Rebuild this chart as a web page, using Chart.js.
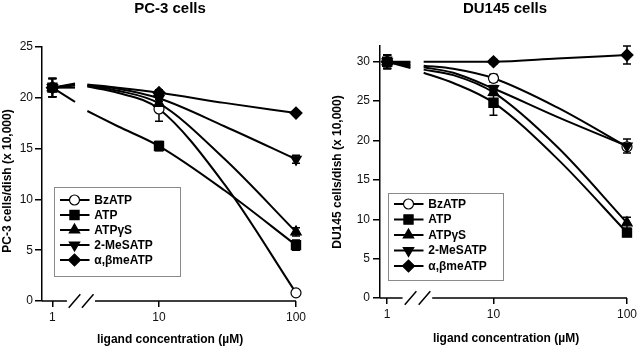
<!DOCTYPE html>
<html>
<head>
<meta charset="utf-8">
<title>Nucleotide effects on PC-3 and DU145 cell number</title>
<script src="https://cdn.jsdelivr.net/npm/chart.js@4.4.1/dist/chart.umd.min.js"></script>
<style>
  html, body { margin: 0; padding: 0; background: #fff; }
  .charts { display: flex; width: 640px; height: 347px; }
  .panel { position: relative; width: 320px; height: 347px; }
</style>
</head>
<body>
<div class="charts">
  <div class="panel"><canvas id="pc3Chart"></canvas></div>
  <div class="panel"><canvas id="du145Chart"></canvas></div>
</div>
<script>
// ============================================================================
// DATA (cells/dish x 10,000)
// ============================================================================
const seriesNames = ['BzATP', 'ATP', 'ATPγS', '2-MeSATP', 'α,βmeATP'];
const markerConc = [1, 10, 100];        // µM (1 = control, left of the axis break)
const fitConc = [3, 5, 10, 30, 100];
const xTickLabels = ['1', '10', '100'];
const pc3YTicks = [0, 5, 10, 15, 20, 25];
const du145YTicks = [0, 5, 10, 15, 20, 25, 30];

// PC-3: measured means at 1, 10, 100 µM
const pc3BzATP = [21.0, 18.9, 0.8];
const pc3ATP = [21.0, 15.25, 5.5];
const pc3ATPgS = [21.0, 19.45, 6.8];
const pc3MeSATP = [21.0, 19.95, 13.95];
const pc3AbmeATP = [21.0, 20.5, 18.5];
// PC-3: error bars (±)
const pc3BzATPErr = [0.9, 1.2, 0.2];
const pc3ATPErr = [0.9, 0.45, 0.5];
const pc3ATPgSErr = [0.9, 0.4, 0.4];
const pc3MeSATPErr = [0.9, 0.3, 0.4];
const pc3AbmeATPErr = [0.9, 0.3, 0.2];
// PC-3: fitted curves at fitConc
const pc3BzATPFit = [21.1, 20.5, 18.9, 11.5, 0.8];
const pc3ATPFit = [18.7, 17.2, 15.25, 10.9, 5.5];
const pc3ATPgSFit = [21.2, 20.7, 19.45, 14.0, 6.8];
const pc3MeSATPFit = [21.2, 20.9, 19.95, 17.2, 13.95];
const pc3AbmeATPFit = [21.3, 21.0, 20.5, 19.5, 18.5];
// PC-3: where each line from the control meets the axis break
const pc3Stub = [21.0, 19.6, 21.2, 21.3, 21.4];

// DU145: measured means at 1, 10, 100 µM
const du145BzATP = [30.0, 27.9, 19.2];
const du145ATP = [30.0, 24.8, 8.3];
const du145ATPgS = [30.0, 26.1, 9.55];
const du145MeSATP = [30.0, 26.6, 19.3];
const du145AbmeATP = [30.0, 30.0, 30.85];
// DU145: error bars (±)
const du145BzATPErr = [0.85, 0.5, 0.4];
const du145ATPErr = [0.85, 1.6, 0.4];
const du145ATPgSErr = [0.85, 0.4, 0.7];
const du145MeSATPErr = [0.85, 0.4, 0.9];
const du145AbmeATPErr = [0.85, 0.3, 1.15];
// DU145: fitted curves at fitConc
const du145BzATPFit = [29.5, 29.1, 27.9, 24.2, 19.2];
const du145ATPFit = [28.6, 27.3, 24.8, 17.7, 8.3];
const du145ATPgSFit = [29.0, 28.3, 26.1, 19.2, 9.55];
const du145MeSATPFit = [29.3, 28.6, 26.6, 23.0, 19.3];
const du145AbmeATPFit = [30.0, 30.0, 30.0, 30.4, 30.85];
const du145Stub = [29.8, 29.2, 29.4, 29.6, 30.0];

// ============================================================================
// STYLE
// ============================================================================
const FONT = "'Liberation Sans', Arial, Helvetica, sans-serif";
const markerStyles = [
  { pointStyle: 'circle', radius: 5, fill: '#fff', rotation: 0 },
  { pointStyle: 'rect', radius: 6.5, fill: '#000', rotation: 0 },
  { pointStyle: 'triangle', radius: 6, fill: '#000', rotation: 0 },
  { pointStyle: 'triangle', radius: 6, fill: '#000', rotation: 180 },
  { pointStyle: 'rectRot', radius: 6, fill: '#000', rotation: 0 }
];

const pc3Panel = {
  canvasId: 'pc3Chart',
  title: 'PC-3 cells',
  yTitle: 'PC-3 cells/dish (x 10,000)',
  yMax: 25, yTicks: pc3YTicks,
  means: [pc3BzATP, pc3ATP, pc3ATPgS, pc3MeSATP, pc3AbmeATP],
  errors: [pc3BzATPErr, pc3ATPErr, pc3ATPgSErr, pc3MeSATPErr, pc3AbmeATPErr],
  fits: [pc3BzATPFit, pc3ATPFit, pc3ATPgSFit, pc3MeSATPFit, pc3AbmeATPFit],
  stubs: pc3Stub,
  // layout (axis units are decades of concentration)
  xMin: 0.146, ctrlPos: 0.222, stubEnd: 0.387, gap: [0.328, 0.533],
  padding: { top: 47, right: 24, bottom: 0, left: 0 },
  yWidth: 42, xHeight: 46, yTickPad: 2,
  titlePos: [170, 9], xTitlePos: [170, 340], yTitlePos: [8, 181],
  legendBox: { x: 54, y: 187, w: 126, h: 89, row0: 13, rowGap: 15 }
};

const du145Panel = {
  canvasId: 'du145Chart',
  title: 'DU145 cells',
  yTitle: 'DU145 cells/dish (x 10,000)',
  yMax: 32, yTicks: du145YTicks,
  means: [du145BzATP, du145ATP, du145ATPgS, du145MeSATP, du145AbmeATP],
  errors: [du145BzATPErr, du145ATPErr, du145ATPgSErr, du145MeSATPErr, du145AbmeATPErr],
  fits: [du145BzATPFit, du145ATPFit, du145ATPgSFit, du145MeSATPFit, du145AbmeATPFit],
  stubs: du145Stub,
  xMin: 0.15, ctrlPos: 0.204, stubEnd: 0.378, gap: [0.319, 0.541],
  padding: { top: 46, right: 9, bottom: 0, left: 0 },
  yWidth: 60, xHeight: 49, yTickPad: 3,
  titlePos: [185, 9], xTitlePos: [186, 339], yTitlePos: [18, 172],
  legendBox: { x: 68, y: 193, w: 115, h: 87, row0: 11, rowGap: 15.5 }
};

// ============================================================================
// PLUGINS
// ============================================================================
function errorBarPlugin() {
  return {
    id: 'errorBars',
    beforeDatasetsDraw(chart) {
      const { ctx, scales: { x, y } } = chart;
      ctx.save();
      ctx.strokeStyle = '#000';
      ctx.lineWidth = 1.5;
      chart.data.datasets.forEach(ds => {
        if (!ds.errors) return;
        ds.data.forEach((pt, k) => {
          const e = ds.errors[k];
          if (!e) return;
          const px = x.getPixelForValue(pt.x);
          const top = y.getPixelForValue(pt.y + e);
          const bot = y.getPixelForValue(pt.y - e);
          ctx.beginPath();
          ctx.moveTo(px, top); ctx.lineTo(px, bot);
          ctx.moveTo(px - 4, top); ctx.lineTo(px + 4, top);
          ctx.moveTo(px - 4, bot); ctx.lineTo(px + 4, bot);
          ctx.stroke();
        });
      });
      ctx.restore();
    }
  };
}

function axisBreakPlugin(p) {
  return {
    id: 'axisBreak',
    afterDraw(chart) {
      const { ctx, chartArea, scales: { x } } = chart;
      const yAx = chartArea.bottom;
      const g0 = x.getPixelForValue(p.gap[0]);
      const g1 = x.getPixelForValue(p.gap[1]);
      ctx.save();
      ctx.strokeStyle = '#000';
      ctx.lineWidth = 1.5;
      ctx.beginPath();
      ctx.moveTo(chartArea.left, yAx); ctx.lineTo(g0, yAx);
      ctx.moveTo(g1, yAx); ctx.lineTo(chartArea.right, yAx);
      [0.27, 0.74].forEach(f => {
        const cx = g0 + (g1 - g0) * f;
        ctx.moveTo(cx - 5.8, yAx + 6.7);
        ctx.lineTo(cx + 5.8, yAx - 6.7);
      });
      ctx.stroke();
      ctx.restore();
    }
  };
}

function panelTextPlugin(p) {
  return {
    id: 'panelText',
    afterDraw(chart) {
      const ctx = chart.ctx;
      ctx.save();
      ctx.fillStyle = '#000';
      ctx.textBaseline = 'middle';
      ctx.textAlign = 'center';
      ctx.font = `bold 15px ${FONT}`;
      ctx.fillText(p.title, p.titlePos[0], p.titlePos[1]);
      ctx.font = `bold 12px ${FONT}`;
      ctx.fillText('ligand concentration (µM)', p.xTitlePos[0], p.xTitlePos[1]);
      ctx.translate(p.yTitlePos[0], p.yTitlePos[1]);
      ctx.rotate(-Math.PI / 2);
      ctx.fillText(p.yTitle, 0, 0);
      ctx.restore();
    }
  };
}

function legendBoxPlugin(p) {
  return {
    id: 'legendBox',
    afterDraw(chart) {
      const ctx = chart.ctx;
      const b = p.legendBox;
      ctx.save();
      ctx.fillStyle = '#fff';
      ctx.fillRect(b.x, b.y, b.w, b.h);
      ctx.strokeStyle = '#8a8a8a';
      ctx.lineWidth = 1;
      ctx.strokeRect(b.x + 0.5, b.y + 0.5, b.w, b.h);
      seriesNames.forEach((name, i) => {
        const yRow = b.y + b.row0 + i * b.rowGap;
        const st = markerStyles[i];
        ctx.strokeStyle = '#000';
        ctx.lineWidth = 2;
        ctx.beginPath();
        ctx.moveTo(b.x + 6, yRow); ctx.lineTo(b.x + 35.5, yRow);
        ctx.stroke();
        ctx.fillStyle = st.fill;
        ctx.strokeStyle = '#000';
        ctx.lineWidth = 1.2;
        Chart.helpers.drawPoint(ctx, {
          pointStyle: st.pointStyle, radius: st.radius,
          rotation: st.rotation, borderWidth: 1.2
        }, b.x + 20.5, yRow);
        ctx.fillStyle = '#000';
        ctx.font = `bold 12px ${FONT}`;
        ctx.textAlign = 'left';
        ctx.textBaseline = 'middle';
        ctx.fillText(name, b.x + 40.3, yRow + 0.5);
      });
      ctx.restore();
    }
  };
}

// ============================================================================
// CHART RENDERING
// ============================================================================
function xPos(conc, p) {
  return conc === 1 ? p.ctrlPos : Math.log10(conc);
}

function renderPanel(p) {
  const ctx = document.getElementById(p.canvasId)?.getContext('2d');
  if (!ctx) return null;

  const datasets = [];
  seriesNames.forEach((name, i) => {
    const st = markerStyles[i];
    // fitted curve (right of the break)
    datasets.push({
      label: name + ' fit',
      data: fitConc.map((c, k) => ({ x: Math.log10(c), y: p.fits[i][k] })),
      borderColor: '#000', borderWidth: 2, pointRadius: 0,
      cubicInterpolationMode: 'monotone', fill: false, clip: false, order: 10
    });
    // short line from control toward the break
    datasets.push({
      label: name + ' control',
      data: [{ x: p.ctrlPos, y: p.means[i][0] }, { x: p.stubEnd, y: p.stubs[i] }],
      borderColor: '#000', borderWidth: 2, pointRadius: 0,
      tension: 0, fill: false, clip: false, order: 10
    });
    // measured points with error bars
    datasets.push({
      label: name,
      data: markerConc.map((c, k) => ({ x: xPos(c, p), y: p.means[i][k] })),
      errors: p.errors[i],
      showLine: false,
      pointStyle: st.pointStyle,
      pointRadius: st.radius,
      pointRotation: st.rotation,
      pointBackgroundColor: st.fill,
      pointBorderColor: '#000',
      pointBorderWidth: 1.2,
      clip: false,
      order: 5 - i
    });
  });

  const tickFont = { family: FONT, size: 12 };

  return new Chart(ctx, {
    type: 'line',
    data: { datasets },
    options: {
      responsive: true,
      maintainAspectRatio: false,
      animation: false,
      devicePixelRatio: 1,
      layout: { padding: p.padding },
      plugins: {
        legend: { display: false },
        tooltip: { enabled: false },
        title: { display: false }
      },
      scales: {
        x: {
          type: 'linear',
          min: p.xMin,
          max: 2,
          afterBuildTicks: s => { s.ticks = [p.ctrlPos, 1, 2].map(v => ({ value: v })); },
          afterFit: s => { s.height = p.xHeight; },
          ticks: {
            autoSkip: false, maxRotation: 0, padding: 3,
            color: '#111', font: tickFont,
            callback: (v, idx) => xTickLabels[idx]
          },
          grid: { drawOnChartArea: false, drawTicks: true, tickLength: 6, color: '#000', lineWidth: 1.5 },
          border: { display: false }
        },
        y: {
          type: 'linear',
          min: 0,
          max: p.yMax,
          afterBuildTicks: s => { s.ticks = p.yTicks.map(v => ({ value: v })); },
          afterFit: s => { s.width = p.yWidth; },
          ticks: { padding: p.yTickPad, color: '#111', font: tickFont },
          grid: { drawOnChartArea: false, drawTicks: true, tickLength: 7, color: '#000', lineWidth: 1.5 },
          border: { display: true, color: '#000', width: 1.5 }
        }
      }
    },
    plugins: [errorBarPlugin(), axisBreakPlugin(p), legendBoxPlugin(p), panelTextPlugin(p)]
  });
}

renderPanel(pc3Panel);
renderPanel(du145Panel);
</script>
</body>
</html>
